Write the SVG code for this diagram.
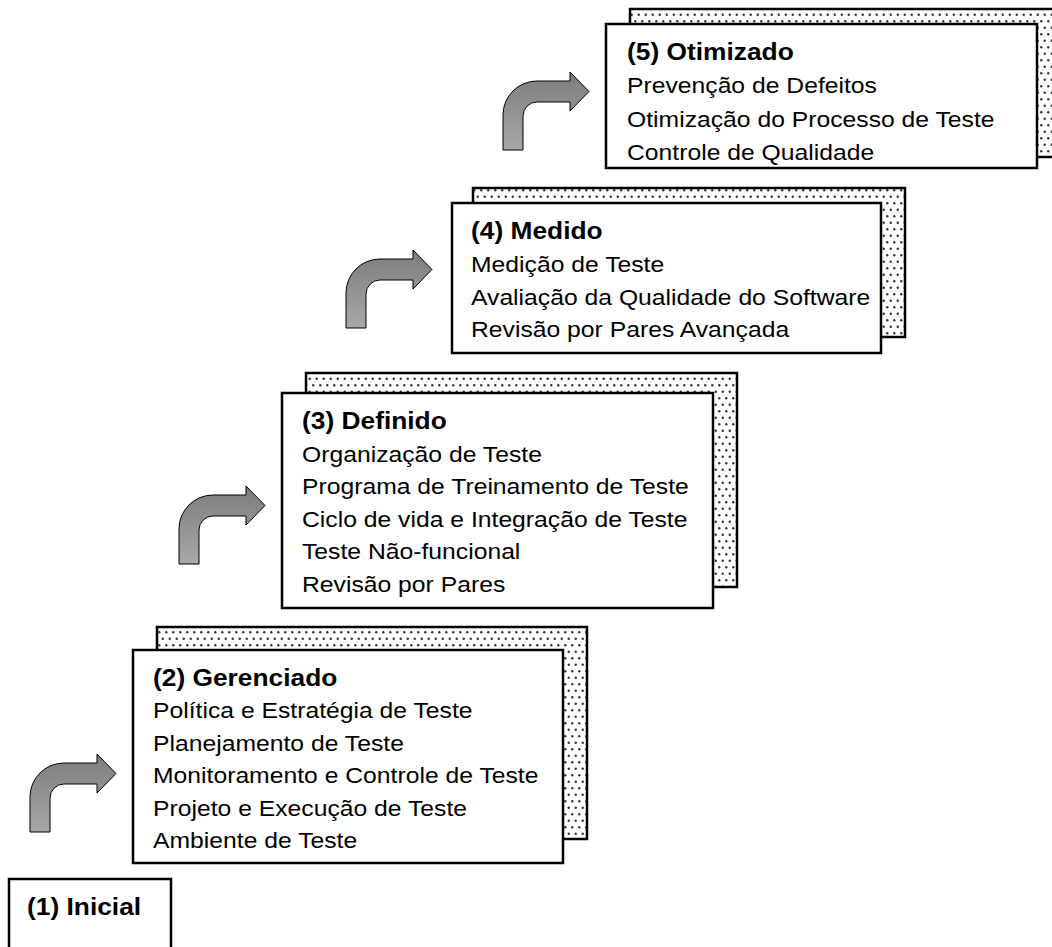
<svg xmlns="http://www.w3.org/2000/svg" width="1052" height="947" viewBox="0 0 1052 947">
<style>
.shadow{fill:url(#dots);stroke:#000;stroke-width:2.5}
.front{fill:#fff;stroke:#000;stroke-width:2.5}
.t{font-family:"Liberation Sans",Arial,sans-serif;font-size:23px;fill:#000}
.b{font-weight:bold;font-size:24.5px}
.arrow{fill:url(#grad);stroke:#000;stroke-width:1}
</style>
<defs>
<pattern id="dots" width="7" height="13" patternUnits="userSpaceOnUse">
<rect width="7" height="13" fill="#fff"/>
<circle cx="1.75" cy="1.75" r="1.2" fill="#333"/>
<circle cx="5.25" cy="8.25" r="1.2" fill="#333"/>
</pattern>
<linearGradient id="grad" x1="0" y1="0" x2="0" y2="1">
<stop offset="0" stop-color="#7c7c7c"/>
<stop offset="1" stop-color="#a8a8a8"/>
</linearGradient>
<path id="arr" d="M0 0 V-35 A34 34 0 0 1 34 -69 H67 V-78 L86 -58.5 L67 -39 V-48 H34 A14 14 0 0 0 20 -34 V0 Z"/>
</defs>
<rect width="1052" height="947" fill="#fff"/>

<g id="connectors">
<use href="#arr" class="arrow" transform="translate(30 832)"/>
<use href="#arr" class="arrow" transform="translate(179 564)"/>
<use href="#arr" class="arrow" transform="translate(346 328)"/>
<use href="#arr" class="arrow" transform="translate(503 150)"/>
</g>

<g id="node1">
<rect class="front" x="9" y="879" width="162" height="90"/>
<g transform="translate(27 0) scale(1.075 1)"><text class="t b" x="0" y="915">(1) Inicial</text></g>
</g>

<g id="node2">
<rect class="shadow" x="157" y="627" width="430" height="212"/>
<rect class="front" x="133" y="650" width="430" height="213"/>
<g transform="translate(153 0) scale(1.075 1)">
<text class="t b" x="0" y="686">(2) Gerenciado</text>
<text class="t" x="0" y="718.5">Política e Estratégia de Teste</text>
<text class="t" x="0" y="751">Planejamento de Teste</text>
<text class="t" x="0" y="783.5">Monitoramento e Controle de Teste</text>
<text class="t" x="0" y="816">Projeto e Execução de Teste</text>
<text class="t" x="0" y="848">Ambiente de Teste</text>
</g>
</g>

<g id="node3">
<rect class="shadow" x="306" y="373" width="431" height="214"/>
<rect class="front" x="282" y="393" width="431" height="215"/>
<g transform="translate(302 0) scale(1.075 1)">
<text class="t b" x="0" y="429">(3) Definido</text>
<text class="t" x="0" y="462">Organização de Teste</text>
<text class="t" x="0" y="494.5">Programa de Treinamento de Teste</text>
<text class="t" x="0" y="527">Ciclo de vida e Integração de Teste</text>
<text class="t" x="0" y="559.5">Teste Não-funcional</text>
<text class="t" x="0" y="592">Revisão por Pares</text>
</g>
</g>

<g id="node4">
<rect class="shadow" x="473" y="188" width="432" height="149"/>
<rect class="front" x="452" y="203" width="429" height="150"/>
<g transform="translate(471 0) scale(1.075 1)">
<text class="t b" x="0" y="239">(4) Medido</text>
<text class="t" x="0" y="272">Medição de Teste</text>
<text class="t" x="0" y="305">Avaliação da Qualidade do Software</text>
<text class="t" x="0" y="337">Revisão por Pares Avançada</text>
</g>
</g>

<g id="node5">
<rect class="shadow" x="630" y="9" width="431" height="148"/>
<rect class="front" x="606" y="24" width="431" height="144"/>
<g transform="translate(627 0) scale(1.075 1)">
<text class="t b" x="0" y="60">(5) Otimizado</text>
<text class="t" x="0" y="93">Prevenção de Defeitos</text>
<text class="t" x="0" y="127">Otimização do Processo de Teste</text>
<text class="t" x="0" y="160">Controle de Qualidade</text>
</g>
</g>
</svg>
